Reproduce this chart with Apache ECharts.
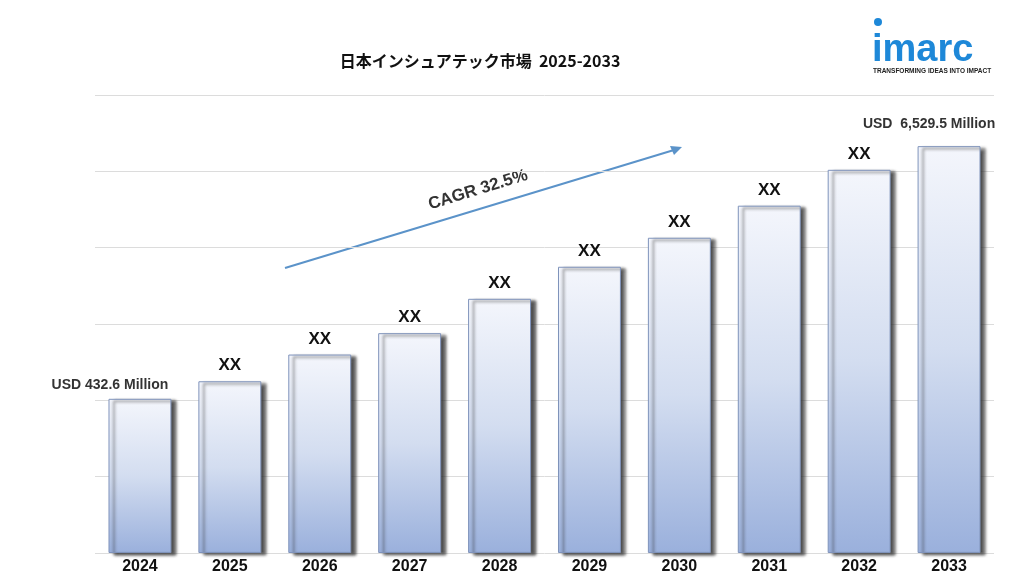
<!DOCTYPE html>
<html><head><meta charset="utf-8">
<script src="https://cdn.jsdelivr.net/npm/echarts@6/dist/echarts.min.js"></script>
<style>html,body{margin:0;padding:0;background:#fff}#c{width:1024px;height:576px}</style>
</head><body><div id="c"></div>
<script>
const categories = ['2024','2025','2026','2027','2028','2029','2030','2031','2032','2033'];
const values = [2.02, 2.25, 2.6, 2.88, 3.33, 3.75, 4.13, 4.55, 5.02, 5.33];
const barLabels = ['USD 432.6 Million','XX','XX','XX','XX','XX','XX','XX','XX','USD  6,529.5 Million'];
const title = '日本インシュアテック市場  2025-2033';
const cagr = 'CAGR 32.5%';

const chart = echarts.init(document.getElementById('c'));
chart.setOption({
  animation:false,
  title:{text:title,left:475,top:48,textAlign:'center',textStyle:{fontSize:16,fontWeight:'bold',color:'#111',fontFamily:'Noto Sans CJK JP'}},
  grid:{left:95,right:30,top:95,bottom:23,containLabel:false},
  xAxis:{type:'category',data:categories,axisLine:{show:false},axisTick:{show:false},
    axisLabel:{fontSize:16,fontWeight:'bold',color:'#111',margin:6,fontFamily:'Liberation Sans'}},
  yAxis:{type:'value',min:0,max:6,interval:1,axisLabel:{show:false},axisLine:{show:false},axisTick:{show:false},
    splitLine:{lineStyle:{color:'#dcdcdc'}}},
  series:[{type:'bar',data:values.map((v,i)=>({value:v,label:{
      formatter:barLabels[i],
      fontSize: i===0||i===9 ? 14 : 17,
      color: i===0||i===9 ? '#333' : '#111',
      offset: i===0 ? [-30,0] : (i===9 ? [-20,-8] : [0,0])}})),
    barWidth:'70%',
    label:{show:true,position:'top',fontWeight:'bold',fontFamily:'Liberation Sans',distance:7},
    itemStyle:{color:new echarts.graphic.LinearGradient(0,0,0,1,[{offset:0,color:'#f4f6fc'},{offset:0.5,color:'#d3ddf0'},{offset:1,color:'#9ab0dc'}]),
      borderColor:'#7f93bb',borderWidth:1,shadowColor:'rgba(40,40,40,0.8)',shadowOffsetX:5,shadowOffsetY:2,shadowBlur:3}
  }],
  graphic:[
    {type:'line',shape:{x1:285,y1:268,x2:674,y2:150},style:{stroke:'#5b93c9',lineWidth:2}},
    {type:'polygon',shape:{points:[[682,147],[670,146],[674,155]]},style:{fill:'#5b93c9'}},
    {type:'text',x:478,y:190,rotation:17*Math.PI/180,style:{text:cagr,fontSize:17,fontWeight:'bold',fill:'#333',align:'center',verticalAlign:'middle',fontFamily:'Liberation Sans'}},
    {type:'text',x:872,y:32,style:{text:'imarc',fontSize:38,fontWeight:'bold',fill:'#1e88d8',fontFamily:'Liberation Sans'}},
    {type:'circle',shape:{cx:878,cy:22,r:4},style:{fill:'#1e88d8'}},
    {type:'text',x:873,y:68,style:{text:'TRANSFORMING IDEAS INTO IMPACT',fontSize:6.5,fontWeight:'bold',fill:'#222',fontFamily:'Liberation Sans'}}
  ]
});
</script></body></html>
